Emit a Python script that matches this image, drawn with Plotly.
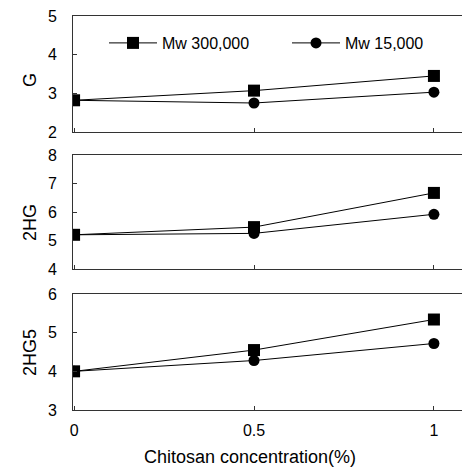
import plotly.graph_objects as go

x = [0, 0.5, 1]
series_names = ["Mw 300,000", "Mw 15,000"]
G_300k = [2.82, 3.07, 3.45]
G_15k = [2.82, 2.75, 3.03]
HG2_300k = [5.2, 5.47, 6.67]
HG2_15k = [5.2, 5.25, 5.92]
HG25_300k = [4.0, 4.55, 5.34]
HG25_15k = [4.0, 4.28, 4.72]
panel_titles = ["G", "2HG", "2HG5"]
y_ranges = [[2, 5], [4, 8], [3, 6]]
x_ticks = [0, 0.5, 1]
x_ticklabels = ["0", "0.5", "1"]

FONT = "Liberation Sans, Arial, sans-serif"
W, H = 462, 468
L = 73
panels_px = [(16, 132), (155, 269), (294, 410)]

fig = go.Figure()
data = [(G_300k, G_15k), (HG2_300k, HG2_15k), (HG25_300k, HG25_15k)]
for i, (a, b) in enumerate(data):
    xa = "x" if i == 0 else f"x{i+1}"
    ya = "y" if i == 0 else f"y{i+1}"
    fig.add_trace(go.Scatter(x=x, y=a, mode="lines+markers", name=series_names[0],
                             line=dict(color="black", width=1),
                             marker=dict(symbol="square", size=12, color="black"),
                             xaxis=xa, yaxis=ya, showlegend=(i == 0), legend="legend"))
    fig.add_trace(go.Scatter(x=x, y=b, mode="lines+markers", name=series_names[1],
                             line=dict(color="black", width=1),
                             marker=dict(symbol="circle", size=11, color="black"),
                             xaxis=xa, yaxis=ya, showlegend=(i == 0), legend="legend2"))

leg_common = dict(orientation="h", xanchor="left", yanchor="middle",
                  bgcolor="rgba(0,0,0,0)", font=dict(size=16), itemwidth=48)
layout = dict(width=W, height=H, margin=dict(l=L, r=0, t=0, b=0),
              paper_bgcolor="white", plot_bgcolor="white",
              font=dict(family=FONT, size=16, color="black"),
              showlegend=True,
              legend=dict(x=(104 - L) / (W - L), y=1 - 43 / H, **leg_common),
              legend2=dict(x=(287 - L) / (W - L), y=1 - 43 / H, **leg_common))
for i, (top, bot) in enumerate(panels_px):
    sfx = "" if i == 0 else str(i + 1)
    layout["xaxis" + sfx] = dict(
        domain=[0, 1], range=[-0.003, 1.078], anchor="y" + sfx,
        showline=True, linecolor="#333", linewidth=1, mirror=True,
        tickvals=x_ticks, ticktext=x_ticklabels, showticklabels=(i == 2),
        ticks="inside", ticklen=4, tickcolor="#333", showgrid=False, zeroline=False,
        tickfont=dict(size=16), ticklabelstandoff=6, automargin=False)
    layout["yaxis" + sfx] = dict(
        domain=[1 - bot / H, 1 - top / H], range=y_ranges[i], anchor="x" + sfx,
        showline=True, linecolor="#333", linewidth=1, mirror=False,
        dtick=1, ticks="inside", ticklen=4, tickcolor="#333",
        showgrid=False, zeroline=False, tickfont=dict(size=16),
        ticklabelstandoff=12, automargin=False)
fig.update_layout(**layout)

title_y = [80, 223, 353]
for t, yc in zip(panel_titles, title_y):
    fig.add_annotation(text=t, xref="paper", yref="paper", x=(30 - L) / (W - L),
                       y=1 - yc / H, showarrow=False, textangle=-90,
                       font=dict(size=18), xanchor="center", yanchor="middle")
fig.add_annotation(text="Chitosan concentration(%)", xref="paper", yref="paper",
                   x=(250 - L) / (W - L), y=1 - 457 / H, showarrow=False,
                   font=dict(size=18), xanchor="center", yanchor="middle")

fig.write_html("out.html")
